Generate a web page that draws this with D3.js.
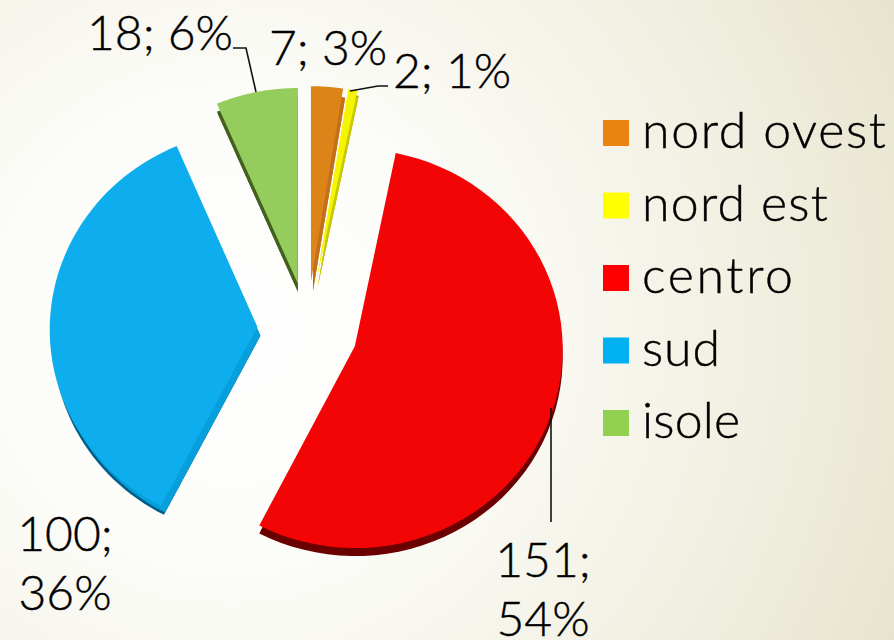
<!DOCTYPE html>
<html>
<head>
<meta charset="utf-8">
<script src="https://d3js.org/d3.v7.min.js"></script>
<style>
  html, body { margin: 0; padding: 0; }
  body { width: 894px; height: 640px; overflow: hidden; background: #fff; }
</style>
</head>
<body>
<div id="pie"></div>
<script>

// data
var categories = ["nord ovest", "nord est", "centro", "sud", "isole"];
var values = [7, 2, 151, 100, 18];
var labelLines = [["7; 3%"], ["2; 1%"], ["151;", "54%"], ["100;", "36%"], ["18; 6%"]];

// colours
var legendColors = ["#ea8411", "#ffff00", "#ff0000", "#00b0f0", "#92d050"];
var topColors = ["#dd8418", "#f4f404", "#f40505", "#0eaeee", "#94cd5b"];
var wallColors = ["#b9691a", "#b5b500", "#6b0000", "#005f88", "#44601f"];
var sideColors = ["#c4701a", "#c9c900", "#6b0000", "#069fdb", "#44601f"];

var width = 894, height = 640;
var center = {x: 307, y: 330};
var radius = 205;
var explode = 50;
var tilt = 0.971, stretch = 1.013, viewDist = 17000;  // the pie lies a little tilted
var nudge = [[0, 0], [0, 0], [0, 0], [1, -1.5], [1, 1]];
var wallShift = [[2, 9], [1.5, 5], [0, 8], [3, 9], [0, 8]];

var svg = d3.select("#pie").append("svg")
    .attr("width", width)
    .attr("height", height);

// background
var defs = svg.append("defs");
var bg = defs.append("radialGradient")
    .attr("id", "bg")
    .attr("gradientUnits", "userSpaceOnUse")
    .attr("cx", 230).attr("cy", 330).attr("r", 760);
bg.append("stop").attr("offset", "0").attr("stop-color", "#ffffff");
bg.append("stop").attr("offset", "0.3").attr("stop-color", "#fcfcf9");
bg.append("stop").attr("offset", "0.65").attr("stop-color", "#f3f1e4");
bg.append("stop").attr("offset", "1").attr("stop-color", "#e6e3cb");
svg.append("rect").attr("width", width).attr("height", height).attr("fill", "url(#bg)");

var pie = d3.pie().sort(null)(values);

// flat pie coordinates to picture coordinates
function project(px, py) {
  var s = viewDist / (viewDist - py);
  return [center.x + px * s * stretch, center.y + py * s * tilt];
}

// outline of one exploded slice, in picture coordinates
function sliceOutline(d, r) {
  var mid = (d.startAngle + d.endAngle) / 2;
  var ax = explode * Math.sin(mid), ay = -explode * Math.cos(mid);
  var pts = [project(ax, ay)];
  d3.range(0, 1.0001, 1 / 60).forEach(function(t) {
    var a = d.startAngle + t * (d.endAngle - d.startAngle);
    pts.push(project(ax + r * Math.sin(a), ay - r * Math.cos(a)));
  });
  return d3.line()(pts) + "Z";
}

var slices = svg.selectAll(".slice").data(pie).enter().append("g")
    .attr("class", "slice")
    .attr("transform", function(d, i) { return "translate(" + nudge[i][0] + "," + nudge[i][1] + ")"; });

// side wall, lighter on the straight edge for the blue one
slices.append("path")
    .attr("d", function(d) { return sliceOutline(d, radius); })
    .attr("fill", function(d, i) { return wallColors[i]; })
    .attr("transform", function(d, i) { return "translate(" + wallShift[i][0] + "," + wallShift[i][1] + ")"; });
slices.append("path")
    .attr("d", function(d) { return sliceOutline(d, radius - 2.5); })
    .attr("fill", function(d, i) { return sideColors[i]; })
    .attr("transform", function(d, i) { return "translate(" + wallShift[i][0] + "," + wallShift[i][1] + ")"; });
slices.append("path")
    .attr("d", function(d) { return sliceOutline(d, radius); })
    .attr("fill", function(d, i) { return topColors[i]; });

// leader lines
var leaders = [
  [[350, 91], [378, 86], [388, 86]],
  [[551, 408], [551, 522]],
  [[256, 92], [246, 48], [233, 48]]
];
svg.selectAll(".leader").data(leaders).enter().append("path")
    .attr("class", "leader")
    .attr("fill", "none")
    .attr("stroke", "#111")
    .attr("stroke-width", 1.6)
    .attr("d", d3.line());

// value labels
var fontFamily = "Lato, 'Open Sans', sans-serif";
var labelPos = [[269, 65], [393, 88], [543, 577], [65, 551], [160, 50]];
var labels = svg.selectAll(".label").data(labelLines).enter().append("text")
    .attr("class", "label")
    .attr("font-family", fontFamily)
    .attr("font-weight", 300)
    .attr("font-size", 48)
    .attr("fill", "#000")
    .attr("stroke", "#000")
    .attr("stroke-width", 0.4)
    .attr("text-anchor", function(d, i) { return i == 0 || i == 1 ? "start" : "middle"; })
    .attr("transform", function(d, i) { return "translate(" + labelPos[i][0] + "," + labelPos[i][1] + ")"; });
labels.selectAll("tspan").data(function(d) { return d; }).enter().append("tspan")
    .attr("x", 0)
    .attr("y", function(d, i) { return i * 58.5; })
    .text(function(d) { return d; });

// legend
var legendWidths = [244, 186, 151, 78, 98];
var legendY = d3.scalePoint().domain(categories).range([120, 410]);
var legend = svg.selectAll(".legend").data(categories).enter().append("g")
    .attr("class", "legend")
    .attr("transform", function(d) { return "translate(603," + legendY(d) + ")"; });
legend.append("rect")
    .attr("width", 26).attr("height", 26)
    .attr("fill", function(d, i) { return legendColors[i]; });
legend.append("text")
    .attr("x", 39).attr("y", 28)
    .attr("font-family", fontFamily)
    .attr("font-weight", 300)
    .attr("font-size", 50)
    .attr("fill", "#000")
    .attr("stroke", "#000")
    .attr("stroke-width", 0.4)
    .attr("textLength", function(d, i) { return legendWidths[i]; })
    .attr("lengthAdjust", "spacing")
    .text(function(d) { return d; });

</script>
</body>
</html>
